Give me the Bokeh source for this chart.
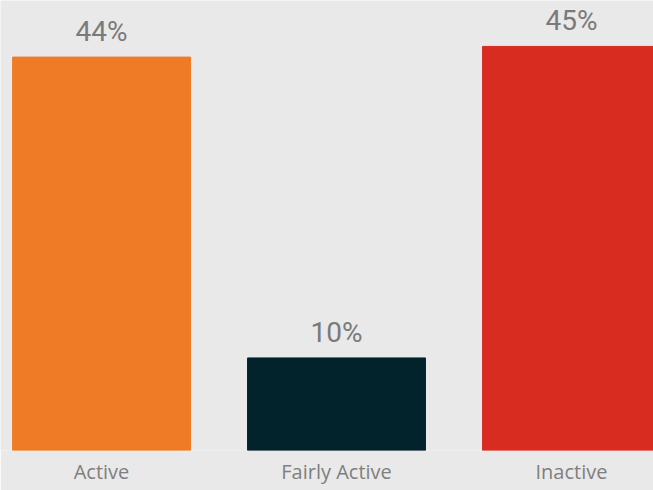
from bokeh.plotting import figure
from bokeh.models import ColumnDataSource, LabelSet, FixedTicker, Range1d
from bokeh.core.properties import value
from bokeh.embed import file_html
from bokeh.resources import INLINE

categories = ["Active", "Fairly Active", "Inactive"]
values = [44.2, 10.4, 45.4]
colors = ["#f07b26", "#02232b", "#d92c20"]
value_labels = [f"{round(v)}%" for v in values]

xs = list(range(len(categories)))
src = ColumnDataSource(dict(x=xs, top=values, color=colors, label=value_labels))

BG = "#e9e9e9"
p = figure(frame_width=653, frame_height=450, output_backend="svg", toolbar_location=None,
           x_range=Range1d(-0.43, 2.349), y_range=Range1d(0, 50.56),
           min_border_left=0, min_border_right=0, min_border_top=0, min_border_bottom=40,
           background_fill_color=BG, border_fill_color=BG, outline_line_color=None)

p.vbar(x="x", top="top", bottom=0, width=0.757, color="color", source=src)

labels = LabelSet(x="x", y="top", text="label", source=src, text_align="center",
                  text_baseline="alphabetic", y_offset=16, text_font=value("Roboto"),
                  text_font_size=value("28px"), text_color=value("#7a7a7a"))
p.add_layout(labels)

p.xgrid.visible = False
p.ygrid.visible = False
p.yaxis.visible = False
p.xaxis.ticker = FixedTicker(ticks=xs)
p.xaxis.major_label_overrides = {i: c for i, c in zip(xs, categories)}
p.xaxis.axis_line_color = None
p.xaxis.major_tick_line_color = None
p.xaxis.minor_tick_line_color = None
p.xaxis.major_tick_in = 0
p.xaxis.major_tick_out = 0
p.xaxis.major_label_standoff = 7
p.xaxis.major_label_text_font = "Open Sans"
p.xaxis.major_label_text_font_size = "20px"
p.xaxis.major_label_text_font_style = "normal"
p.xaxis.major_label_text_color = "#7f7f7f"

html = file_html(p, INLINE)
html = html.replace("<body>", f'<body style="margin:0;overflow:hidden;background:{BG};">', 1)
open("out.html", "w").write(html)
